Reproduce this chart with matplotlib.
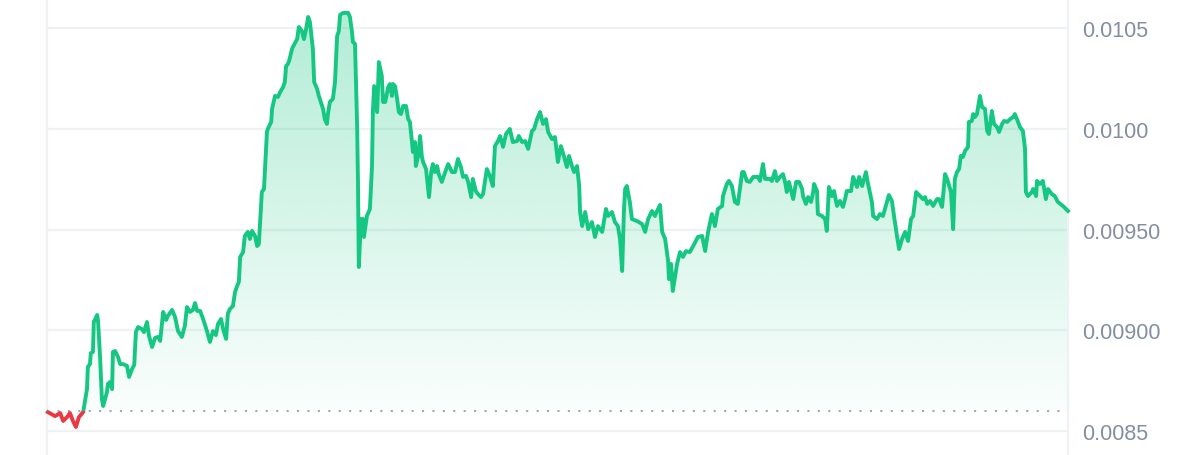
import matplotlib
matplotlib.use("Agg")
import matplotlib.pyplot as plt
import numpy as np
from matplotlib.patches import Rectangle

plt.rcParams["font.family"] = ["Liberation Sans", "DejaVu Sans"]

# 24h price history (hours since window start, price)
hours = [
    0.02, 0.19, 0.31, 0.38, 0.47, 0.54, 0.61, 0.68, 0.75, 0.85,
    0.94, 0.96, 1.01, 1.03, 1.08, 1.10, 1.18, 1.20, 1.25, 1.29,
    1.32, 1.41, 1.43, 1.48, 1.53, 1.55, 1.60, 1.67, 1.72, 1.79,
    1.88, 1.93, 2.00, 2.05, 2.09, 2.14, 2.23, 2.28, 2.35, 2.40,
    2.47, 2.54, 2.61, 2.66, 2.73, 2.80, 2.84, 2.94, 3.01, 3.08,
    3.17, 3.24, 3.29, 3.36, 3.43, 3.48, 3.53, 3.60, 3.67, 3.76,
    3.83, 3.90, 3.97, 4.02, 4.09, 4.14, 4.21, 4.25, 4.30, 4.37,
    4.42, 4.47, 4.51, 4.54, 4.61, 4.65, 4.72, 4.77, 4.82, 4.89,
    4.94, 4.98, 5.05, 5.10, 5.17, 5.19, 5.27, 5.29, 5.36, 5.43,
    5.48, 5.55, 5.59, 5.62, 5.66, 5.69, 5.76, 5.78, 5.88, 5.92,
    5.99, 6.04, 6.09, 6.14, 6.18, 6.25, 6.28, 6.35, 6.39, 6.49,
    6.53, 6.58, 6.61, 6.65, 6.72, 6.77, 6.82, 6.86, 6.89, 6.96,
    7.08, 7.12, 7.17, 7.19, 7.24, 7.29, 7.31, 7.33, 7.38, 7.43,
    7.45, 7.52, 7.59, 7.64, 7.66, 7.69, 7.76, 7.78, 7.80, 7.87,
    7.90, 7.95, 8.02, 8.06, 8.11, 8.13, 8.18, 8.23, 8.27, 8.32,
    8.37, 8.44, 8.49, 8.53, 8.58, 8.60, 8.65, 8.67, 8.72, 8.77,
    8.81, 8.84, 8.91, 8.96, 8.98, 9.03, 9.07, 9.12, 9.17, 9.21,
    9.28, 9.36, 9.43, 9.52, 9.59, 9.66, 9.73, 9.78, 9.85, 9.90,
    9.97, 10.01, 10.08, 10.13, 10.20, 10.25, 10.34, 10.41, 10.48, 10.53,
    10.60, 10.65, 10.72, 10.79, 10.88, 10.95, 11.05, 11.09, 11.17, 11.24,
    11.31, 11.40, 11.45, 11.52, 11.59, 11.66, 11.73, 11.78, 11.87, 11.94,
    12.01, 12.08, 12.15, 12.22, 12.27, 12.34, 12.39, 12.46, 12.51, 12.53,
    12.58, 12.65, 12.72, 12.81, 12.88, 12.95, 13.05, 13.14, 13.19, 13.28,
    13.35, 13.42, 13.47, 13.52, 13.56, 13.59, 13.63, 13.70, 13.75, 13.87,
    13.99, 14.06, 14.13, 14.22, 14.29, 14.34, 14.41, 14.46, 14.53, 14.60,
    14.62, 14.67, 14.71, 14.81, 14.88, 14.95, 15.02, 15.11, 15.19, 15.30,
    15.40, 15.47, 15.54, 15.63, 15.70, 15.77, 15.87, 15.89, 15.98, 16.03,
    16.10, 16.17, 16.24, 16.34, 16.38, 16.45, 16.52, 16.60, 16.71, 16.76,
    16.83, 16.88, 16.99, 17.04, 17.11, 17.16, 17.23, 17.30, 17.35, 17.39,
    17.44, 17.54, 17.61, 17.68, 17.75, 17.77, 17.84, 17.89, 17.96, 18.01,
    18.03, 18.10, 18.12, 18.22, 18.29, 18.33, 18.38, 18.45, 18.50, 18.57,
    18.64, 18.71, 18.76, 18.80, 18.90, 18.95, 18.99, 19.04, 19.09, 19.16,
    19.25, 19.30, 19.39, 19.42, 19.51, 19.58, 19.65, 19.75, 19.79, 19.86,
    19.91, 19.98, 20.03, 20.10, 20.17, 20.24, 20.31, 20.36, 20.43, 20.52,
    20.59, 20.64, 20.69, 20.76, 20.83, 20.92, 20.97, 21.04, 21.11, 21.16,
    21.25, 21.30, 21.34, 21.39, 21.44, 21.48, 21.53, 21.58, 21.65, 21.67,
    21.74, 21.77, 21.81, 21.86, 21.93, 21.98, 22.05, 22.10, 22.14, 22.21,
    22.26, 22.33, 22.38, 22.45, 22.50, 22.57, 22.64, 22.71, 22.75, 22.80,
    22.87, 22.94, 22.99, 23.01, 23.06, 23.15, 23.18, 23.25, 23.27, 23.34,
    23.41, 23.48, 23.53, 23.62, 23.69, 23.76, 23.88, 24.00,
]
prices = [
    0.008594, 0.008574, 0.008589, 0.008550, 0.008569, 0.008589, 0.008550, 0.008520, 0.008569, 0.008594,
    0.008708, 0.008818, 0.008832, 0.008887, 0.008892, 0.009041, 0.009076, 0.009046, 0.008857, 0.008659,
    0.008624, 0.008694, 0.008733, 0.008743, 0.008708, 0.008892, 0.008897, 0.008867, 0.008832, 0.008832,
    0.008823, 0.008768, 0.008808, 0.008828, 0.008991, 0.009016, 0.009006, 0.008991, 0.009041, 0.008971,
    0.008917, 0.008962, 0.008967, 0.008947, 0.009091, 0.009051, 0.009071, 0.009101, 0.009066, 0.008996,
    0.008967, 0.009021, 0.009115, 0.009091, 0.009101, 0.009135, 0.009096, 0.009096, 0.009056, 0.008996,
    0.008942, 0.008996, 0.008976, 0.009031, 0.009056, 0.009006, 0.008957, 0.009081, 0.009106, 0.009120,
    0.009190, 0.009220, 0.009240, 0.009364, 0.009388, 0.009468, 0.009488, 0.009453, 0.009493, 0.009468,
    0.009418, 0.009428, 0.009686, 0.009701, 0.009984, 0.009999, 0.010034, 0.010098, 0.010163, 0.010158,
    0.010182, 0.010207, 0.010232, 0.010311, 0.010321, 0.010336, 0.010396, 0.010406, 0.010445, 0.010505,
    0.010485, 0.010445, 0.010495, 0.010555, 0.010530, 0.010396, 0.010232, 0.010197, 0.010163, 0.010098,
    0.010048, 0.010024, 0.010083, 0.010133, 0.010148, 0.010232, 0.010460, 0.010485, 0.010565, 0.010575,
    0.010575, 0.010555, 0.010480, 0.010431, 0.010421, 0.010014, 0.009736, 0.009314, 0.009552, 0.009552,
    0.009463, 0.009567, 0.009602, 0.009815, 0.010083, 0.010212, 0.010083, 0.010197, 0.010331, 0.010262,
    0.010133, 0.010133, 0.010207, 0.010222, 0.010163, 0.010222, 0.010212, 0.010148, 0.010083, 0.010073,
    0.010113, 0.010113, 0.010048, 0.010034, 0.009934, 0.009885, 0.009934, 0.009815, 0.009860, 0.009964,
    0.009865, 0.009835, 0.009800, 0.009701, 0.009661, 0.009785, 0.009825, 0.009785, 0.009815, 0.009775,
    0.009736, 0.009785, 0.009825, 0.009785, 0.009785, 0.009850, 0.009810, 0.009761, 0.009766, 0.009736,
    0.009661, 0.009751, 0.009691, 0.009676, 0.009661, 0.009676, 0.009800, 0.009766, 0.009716, 0.009914,
    0.009939, 0.009964, 0.009910, 0.009974, 0.009999, 0.009934, 0.009939, 0.009964, 0.009934, 0.009939,
    0.009900, 0.009989, 0.009999, 0.010048, 0.010083, 0.010024, 0.010048, 0.009984, 0.009949, 0.009959,
    0.009835, 0.009914, 0.009865, 0.009810, 0.009865, 0.009815, 0.009785, 0.009815, 0.009716, 0.009587,
    0.009517, 0.009587, 0.009502, 0.009537, 0.009463, 0.009517, 0.009488, 0.009602, 0.009567, 0.009587,
    0.009537, 0.009517, 0.009453, 0.009294, 0.009587, 0.009701, 0.009716, 0.009637, 0.009552, 0.009542,
    0.009527, 0.009488, 0.009552, 0.009592, 0.009567, 0.009592, 0.009622, 0.009488, 0.009453, 0.009344,
    0.009254, 0.009329, 0.009195, 0.009329, 0.009388, 0.009364, 0.009393, 0.009388, 0.009418, 0.009463,
    0.009468, 0.009393, 0.009488, 0.009577, 0.009517, 0.009602, 0.009617, 0.009666, 0.009726, 0.009741,
    0.009716, 0.009637, 0.009627, 0.009785, 0.009785, 0.009741, 0.009736, 0.009761, 0.009761, 0.009741,
    0.009825, 0.009751, 0.009751, 0.009741, 0.009790, 0.009741, 0.009761, 0.009775, 0.009736, 0.009686,
    0.009736, 0.009651, 0.009736, 0.009736, 0.009701, 0.009666, 0.009627, 0.009661, 0.009637, 0.009686,
    0.009726, 0.009691, 0.009577, 0.009567, 0.009552, 0.009493, 0.009711, 0.009666, 0.009691, 0.009617,
    0.009642, 0.009612, 0.009651, 0.009691, 0.009691, 0.009761, 0.009741, 0.009711, 0.009761, 0.009716,
    0.009785, 0.009726, 0.009637, 0.009567, 0.009552, 0.009577, 0.009567, 0.009642, 0.009671, 0.009642,
    0.009567, 0.009468, 0.009403, 0.009453, 0.009488, 0.009443, 0.009552, 0.009567, 0.009686, 0.009666,
    0.009651, 0.009661, 0.009627, 0.009642, 0.009617, 0.009651, 0.009651, 0.009612, 0.009775, 0.009751,
    0.009686, 0.009502, 0.009751, 0.009785, 0.009800, 0.009865, 0.009860, 0.009890, 0.009910, 0.010034,
    0.010039, 0.010073, 0.010058, 0.010073, 0.010163, 0.010108, 0.010098, 0.009989, 0.009974, 0.010088,
    0.010024, 0.010009, 0.009984, 0.010024, 0.010039, 0.010034, 0.010048, 0.010058, 0.010073, 0.010048,
    0.010009, 0.009989, 0.009900, 0.009686, 0.009666, 0.009686, 0.009701, 0.009666, 0.009741, 0.009726,
    0.009741, 0.009651, 0.009701, 0.009676, 0.009666, 0.009637, 0.009617, 0.009592,
]
open_price = 0.00860

tick_values = [0.0085, 0.0090, 0.0095, 0.0100, 0.0105]
tick_labels = ["0.0085", "0.00900", "0.00950", "0.0100", "0.0105"]

UP = "#16c784"
DOWN = "#ea3943"
GRID = "#eff2f5"
TEXT = "#858ea1"
DOTS = "#a1a7bb"

t = np.array(hours)
p = np.array(prices)
y_lo, y_hi = 0.008381, 0.010644

fig = plt.figure(figsize=(12, 4.56), dpi=100)
ax = fig.add_axes([47 / 1200, 0, (1068 - 47) / 1200, 1])
ax.set_xlim(t[0] - 0.02, t[-1])
ax.set_ylim(y_lo, y_hi)

# gradient fill between the line and the open price
fill = ax.fill_between(t, np.maximum(p, open_price), open_price,
                       facecolor="none", edgecolor="none")
grad = np.zeros((256, 1, 4))
grad[..., 0:3] = matplotlib.colors.to_rgb(UP)
grad[:, 0, 3] = np.linspace(0.02, 0.34, 256)
img = ax.imshow(grad, extent=[0, 24, open_price, y_hi], origin="lower",
                aspect="auto", interpolation="bilinear", zorder=1)
img.set_clip_path(fill.get_paths()[0], transform=ax.transData)

ax.axhline(open_price, color=DOTS, lw=1.5, ls=(0, (1, 4)), zorder=2)

above = Rectangle((-1, open_price), 30, 1, transform=ax.transData)
below = Rectangle((-1, 0), 30, open_price, transform=ax.transData)
green, = ax.plot(t, p, color=UP, lw=2.8, solid_joinstyle="round", zorder=3)
green.set_clip_path(above)
red, = ax.plot(t, p, color=DOWN, lw=2.8, solid_joinstyle="round", zorder=3)
red.set_clip_path(below)

ax.set_yticks(tick_values)
ax.set_yticklabels(tick_labels)
ax.yaxis.tick_right()
ax.set_xticks([])
ax.tick_params(axis="y", length=0, pad=10.5, labelsize=15.5, labelcolor=TEXT)
ax.grid(axis="y", color=GRID, lw=1.6)
ax.set_axisbelow(True)
for side in ("top", "bottom"):
    ax.spines[side].set_visible(False)
for side in ("left", "right"):
    ax.spines[side].set_color(GRID)
    ax.spines[side].set_linewidth(1.6)

fig.savefig("out.png", dpi=100)
plt.close(fig)
